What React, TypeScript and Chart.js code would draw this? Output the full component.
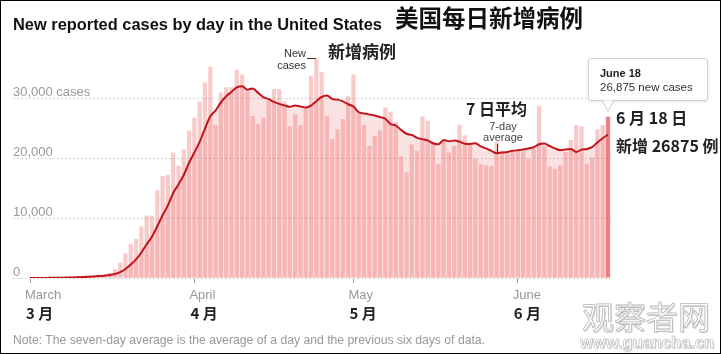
import React, { useEffect, useRef, useState } from 'react';
import { Chart, registerables } from 'chart.js';

Chart.register(...registerables);

// Daily new reported cases, March 1 – June 18 (one value per day)
const dailyCases = [
  // March
  10, 20, 25, 30, 70, 80, 100, 120, 190, 250,
  280, 400, 450, 550, 600, 850, 1450, 2550, 4100, 5700,
  6500, 8600, 10400, 10400, 14600, 17000, 17200, 20900, 18700, 21400,
  24600,
  // April
  26700, 29400, 32600, 35200, 25500, 30900, 31800, 31800, 34700, 33900,
  31100, 27000, 25700, 26700, 29600, 31500, 31500, 29400, 25300, 27300,
  25500, 28500, 33700, 36600, 34300, 27000, 23200, 24800, 26500, 30300,
  // May
  33900, 27700, 25500, 22000, 23700, 24600, 28400, 27700, 26000, 20300,
  17600, 22300, 21200, 26900, 26200, 22700, 19000, 22700, 20900, 22000,
  25600, 23800, 22400, 19900, 19000, 18800, 18700, 22700, 21200, 20800,
  21300,
  // June
  21200, 21100, 19900, 21500, 28700, 22000, 18600, 18200, 18800, 21000,
  23000, 25500, 25300, 19000, 20100, 24800, 25500, 26875,
];

// Seven-day average line
const sevenDayAverage = [
  // March
  10, 12, 15, 20, 30, 40, 48, 64, 88, 120,
  156, 203, 256, 320, 389, 483, 654, 979, 1507, 2257,
  3107, 4250, 5614, 6893, 8614, 10457, 12100, 14157, 15600, 17171,
  19200,
  // April
  20929, 22700, 24900, 26943, 27914, 29271, 30300, 31029, 31786, 31971,
  31386, 31600, 30857, 30129, 29814, 29357, 29014, 28771, 28529, 28757,
  28586, 28429, 28743, 29471, 30171, 30414, 29829, 29729, 29443, 28957,
  // May
  28571, 27629, 27414, 27243, 27086, 26814, 26543, 25657, 25414, 24671,
  24043, 23843, 23357, 23143, 22929, 22457, 22271, 23000, 22800, 22914,
  22729, 22386, 22343, 22471, 21943, 21600, 21200, 20800, 20900, 21000,
  21200,
  // June
  21300, 21400, 21600, 21800, 22300, 22400, 22000, 21600, 21300, 21400,
  21500, 21000, 21400, 21500, 21800, 22600, 23300, 23900,
];

const monthStartDays = [0, 31, 61, 92];
const monthNamesEn = ['March', 'April', 'May', 'June'];
const monthNamesZh = ['3 月', '4 月', '5 月', '6 月'];
const yTickValues = [0, 10000, 20000, 30000];
const yTickLabels = ['0', '10,000', '20,000', '30,000 cases'];

const LATIN = "'Liberation Sans', Arial, Helvetica, sans-serif";
const CJK = "'Noto Sans CJK SC', 'Noto Sans', sans-serif";

type TxtProps = {
  x: number;
  y: number;
  size: number;
  weight?: number;
  color?: string;
  family?: string;
  style?: React.CSSProperties;
  children: React.ReactNode;
};

function Txt({ x, y, size, weight = 400, color = '#222', family = LATIN, style, children }: TxtProps) {
  return (
    <div
      style={{
        position: 'absolute',
        left: x,
        top: y,
        fontSize: size,
        fontWeight: weight,
        color,
        fontFamily: family,
        lineHeight: 1,
        whiteSpace: 'nowrap',
        ...style,
      }}
    >
      {children}
    </div>
  );
}

export default function App() {
  const canvasRef = useRef<HTMLCanvasElement | null>(null);
  const [tickPx, setTickPx] = useState<number[]>([30, 194.4, 353.5, 517.9]);

  useEffect(() => {
    document.body.style.margin = '0';
    const canvas = canvasRef.current;
    if (!canvas) return;
    const points = dailyCases.map((v, i) => ({ x: i, y: v }));
    const avgPoints = sevenDayAverage.map((v, i) => ({ x: i, y: v }));
    const last = dailyCases.length - 1;

    const chart = new Chart(canvas, {
      type: 'bar',
      data: {
        datasets: [
          {
            type: 'line',
            data: avgPoints,
            fill: 'origin',
            backgroundColor: 'rgba(230,60,60,0.15)',
            borderColor: 'rgba(0,0,0,0)',
            borderWidth: 0,
            pointRadius: 0,
            cubicInterpolationMode: 'monotone',
            order: 3,
          } as any,
          {
            type: 'bar',
            data: points,
            backgroundColor: points.map((_, i) =>
              i === last ? 'rgba(238,92,92,0.78)' : 'rgba(235,80,80,0.3)'
            ),
            borderWidth: 0,
            barPercentage: 0.8,
            categoryPercentage: 1,
            order: 2,
          } as any,
          {
            type: 'line',
            data: avgPoints,
            fill: false,
            borderColor: '#c2141b',
            borderWidth: 2,
            pointRadius: 0,
            cubicInterpolationMode: 'monotone',
            order: 1,
          } as any,
        ],
      },
      options: {
        responsive: false,
        animation: false,
        devicePixelRatio: 1,
        events: [],
        layout: { padding: { left: 13, right: 110, top: 50, bottom: 71 } },
        plugins: { legend: { display: false }, tooltip: { enabled: false } },
        scales: {
          x: {
            type: 'linear',
            bounds: 'data',
            min: -3.206,
            max: 109.566,
            offset: false,
            grid: {
              display: true,
              offset: false,
              drawOnChartArea: false,
              drawTicks: true,
              tickLength: 5,
              color: '#999',
              lineWidth: 1,
            },
            border: { display: false },
            ticks: { display: false },
            afterBuildTicks: (scale: any) => {
              scale.ticks = monthStartDays.map((v) => ({ value: v }));
            },
          },
          y: {
            type: 'linear',
            bounds: 'data',
            min: 0,
            max: 38000,
            grid: { color: '#d4d4d4', drawTicks: false, lineWidth: 1 },
            border: { display: false, dash: [2, 2] },
            ticks: {
              mirror: true,
              padding: 0,
              labelOffset: -6,
              color: '#999',
              font: { family: LATIN, size: 13 },
              callback: (value: any) => {
                const idx = yTickValues.indexOf(Number(value));
                return idx >= 0 ? yTickLabels[idx] : '';
              },
            },
            afterBuildTicks: (scale: any) => {
              scale.ticks = yTickValues.map((v) => ({ value: v }));
            },
          },
        },
      } as any,
    });

    setTickPx(monthStartDays.map((d) => chart.scales.x.getPixelForValue(d)));
    return () => chart.destroy();
  }, []);

  return (
    <div
      style={{
        position: 'relative',
        width: 721,
        height: 354,
        overflow: 'hidden',
        background: '#fff',
        fontFamily: LATIN,
      }}
    >
      <canvas
        ref={canvasRef}
        width={721}
        height={354}
        style={{ position: 'absolute', left: 0, top: 0, display: 'block' }}
      />

      {/* Titles */}
      <Txt x={13} y={16} size={16.4} weight={700} color="#121212">
        New reported cases by day in the United States
      </Txt>
      <Txt x={395} y={5.5} size={23.5} weight={700} color="#111" family={CJK}>
        美国每日新增病例
      </Txt>

      {/* New cases annotation */}
      <div
        style={{
          position: 'absolute',
          left: 268,
          top: 47,
          width: 38,
          textAlign: 'right',
          fontFamily: LATIN,
          fontSize: 11,
          lineHeight: '12px',
          color: '#333',
        }}
      >
        New
        <br />
        cases
      </div>
      <div style={{ position: 'absolute', left: 307, top: 58, width: 9, height: 1, background: '#333' }} />
      <Txt x={328} y={42} size={17} weight={700} family={CJK} color="#222">
        新增病例
      </Txt>

      {/* 7-day average annotation */}
      <Txt x={466} y={100} size={16} weight={700} family={CJK} color="#222">
        7 日平均
      </Txt>
      <div
        style={{
          position: 'absolute',
          left: 473,
          top: 121,
          width: 60,
          textAlign: 'center',
          fontFamily: LATIN,
          fontSize: 11,
          lineHeight: '11px',
          color: '#444',
        }}
      >
        7-day
        <br />
        average
      </div>
      <div style={{ position: 'absolute', left: 497, top: 144, width: 1, height: 9, background: '#333' }} />

      {/* Tooltip */}
      <div
        style={{
          position: 'absolute',
          left: 588,
          top: 58,
          width: 120,
          height: 43,
          boxSizing: 'border-box',
          border: '1px solid #cfcfcf',
          borderRadius: 3,
          background: '#fff',
          boxShadow: '0 1px 3px rgba(0,0,0,0.10)',
        }}
      />
      <svg
        width={14}
        height={14}
        style={{ position: 'absolute', left: 601, top: 99 }}
        viewBox="0 0 14 14"
      >
        <polygon points="1.5,1.5 7,12.5 12.5,1.5" fill="#fff" />
        <polyline points="1.5,1.5 7,12.5 12.5,1.5" fill="none" stroke="#cfcfcf" strokeWidth={1} />
      </svg>
      <Txt x={600} y={68} size={11} weight={700} color="#222">
        June 18
      </Txt>
      <Txt x={600} y={82} size={11.5} color="#333">
        26,875 new cases
      </Txt>

      {/* Right-side labels */}
      <Txt x={616} y={109} size={16} weight={700} family={CJK} color="#222">
        6 月 18 日
      </Txt>
      <Txt x={616} y={136.5} size={16} weight={700} family={CJK} color="#222">
        新增 26875 例
      </Txt>

      {/* Month labels */}
      {monthNamesEn.map((m, i) => (
        <React.Fragment key={m}>
          <Txt x={tickPx[i] - 5} y={288.3} size={13} color="#999">
            {m}
          </Txt>
          <Txt x={tickPx[i] - 4} y={305} size={15} weight={700} family={CJK} color="#222">
            {monthNamesZh[i]}
          </Txt>
        </React.Fragment>
      ))}

      {/* Note */}
      <Txt x={13} y={334.2} size={12.2} color="#999">
        Note: The seven-day average is the average of a day and the previous six days of data.
      </Txt>

      {/* Watermark */}
      <Txt
        x={582}
        y={299}
        size={32}
        family={CJK}
        color="#fff"
        style={{ WebkitTextStroke: '0.8px #b5b5b5', textShadow: '1px 1px 1px rgba(0,0,0,0.18)' }}
      >
        观察者网
      </Txt>
      <Txt
        x={580}
        y={334}
        size={16.5}
        weight={700}
        color="#fff"
        style={{ WebkitTextStroke: '0.6px #b5b5b5', textShadow: '1px 1px 1px rgba(0,0,0,0.18)' }}
      >
        www.guancha.cn
      </Txt>

      {/* Outer frame */}
      <div
        style={{
          position: 'absolute',
          left: 0,
          top: 0,
          width: 721,
          height: 354,
          boxSizing: 'border-box',
          border: '1px solid #000',
          pointerEvents: 'none',
        }}
      />
    </div>
  );
}
